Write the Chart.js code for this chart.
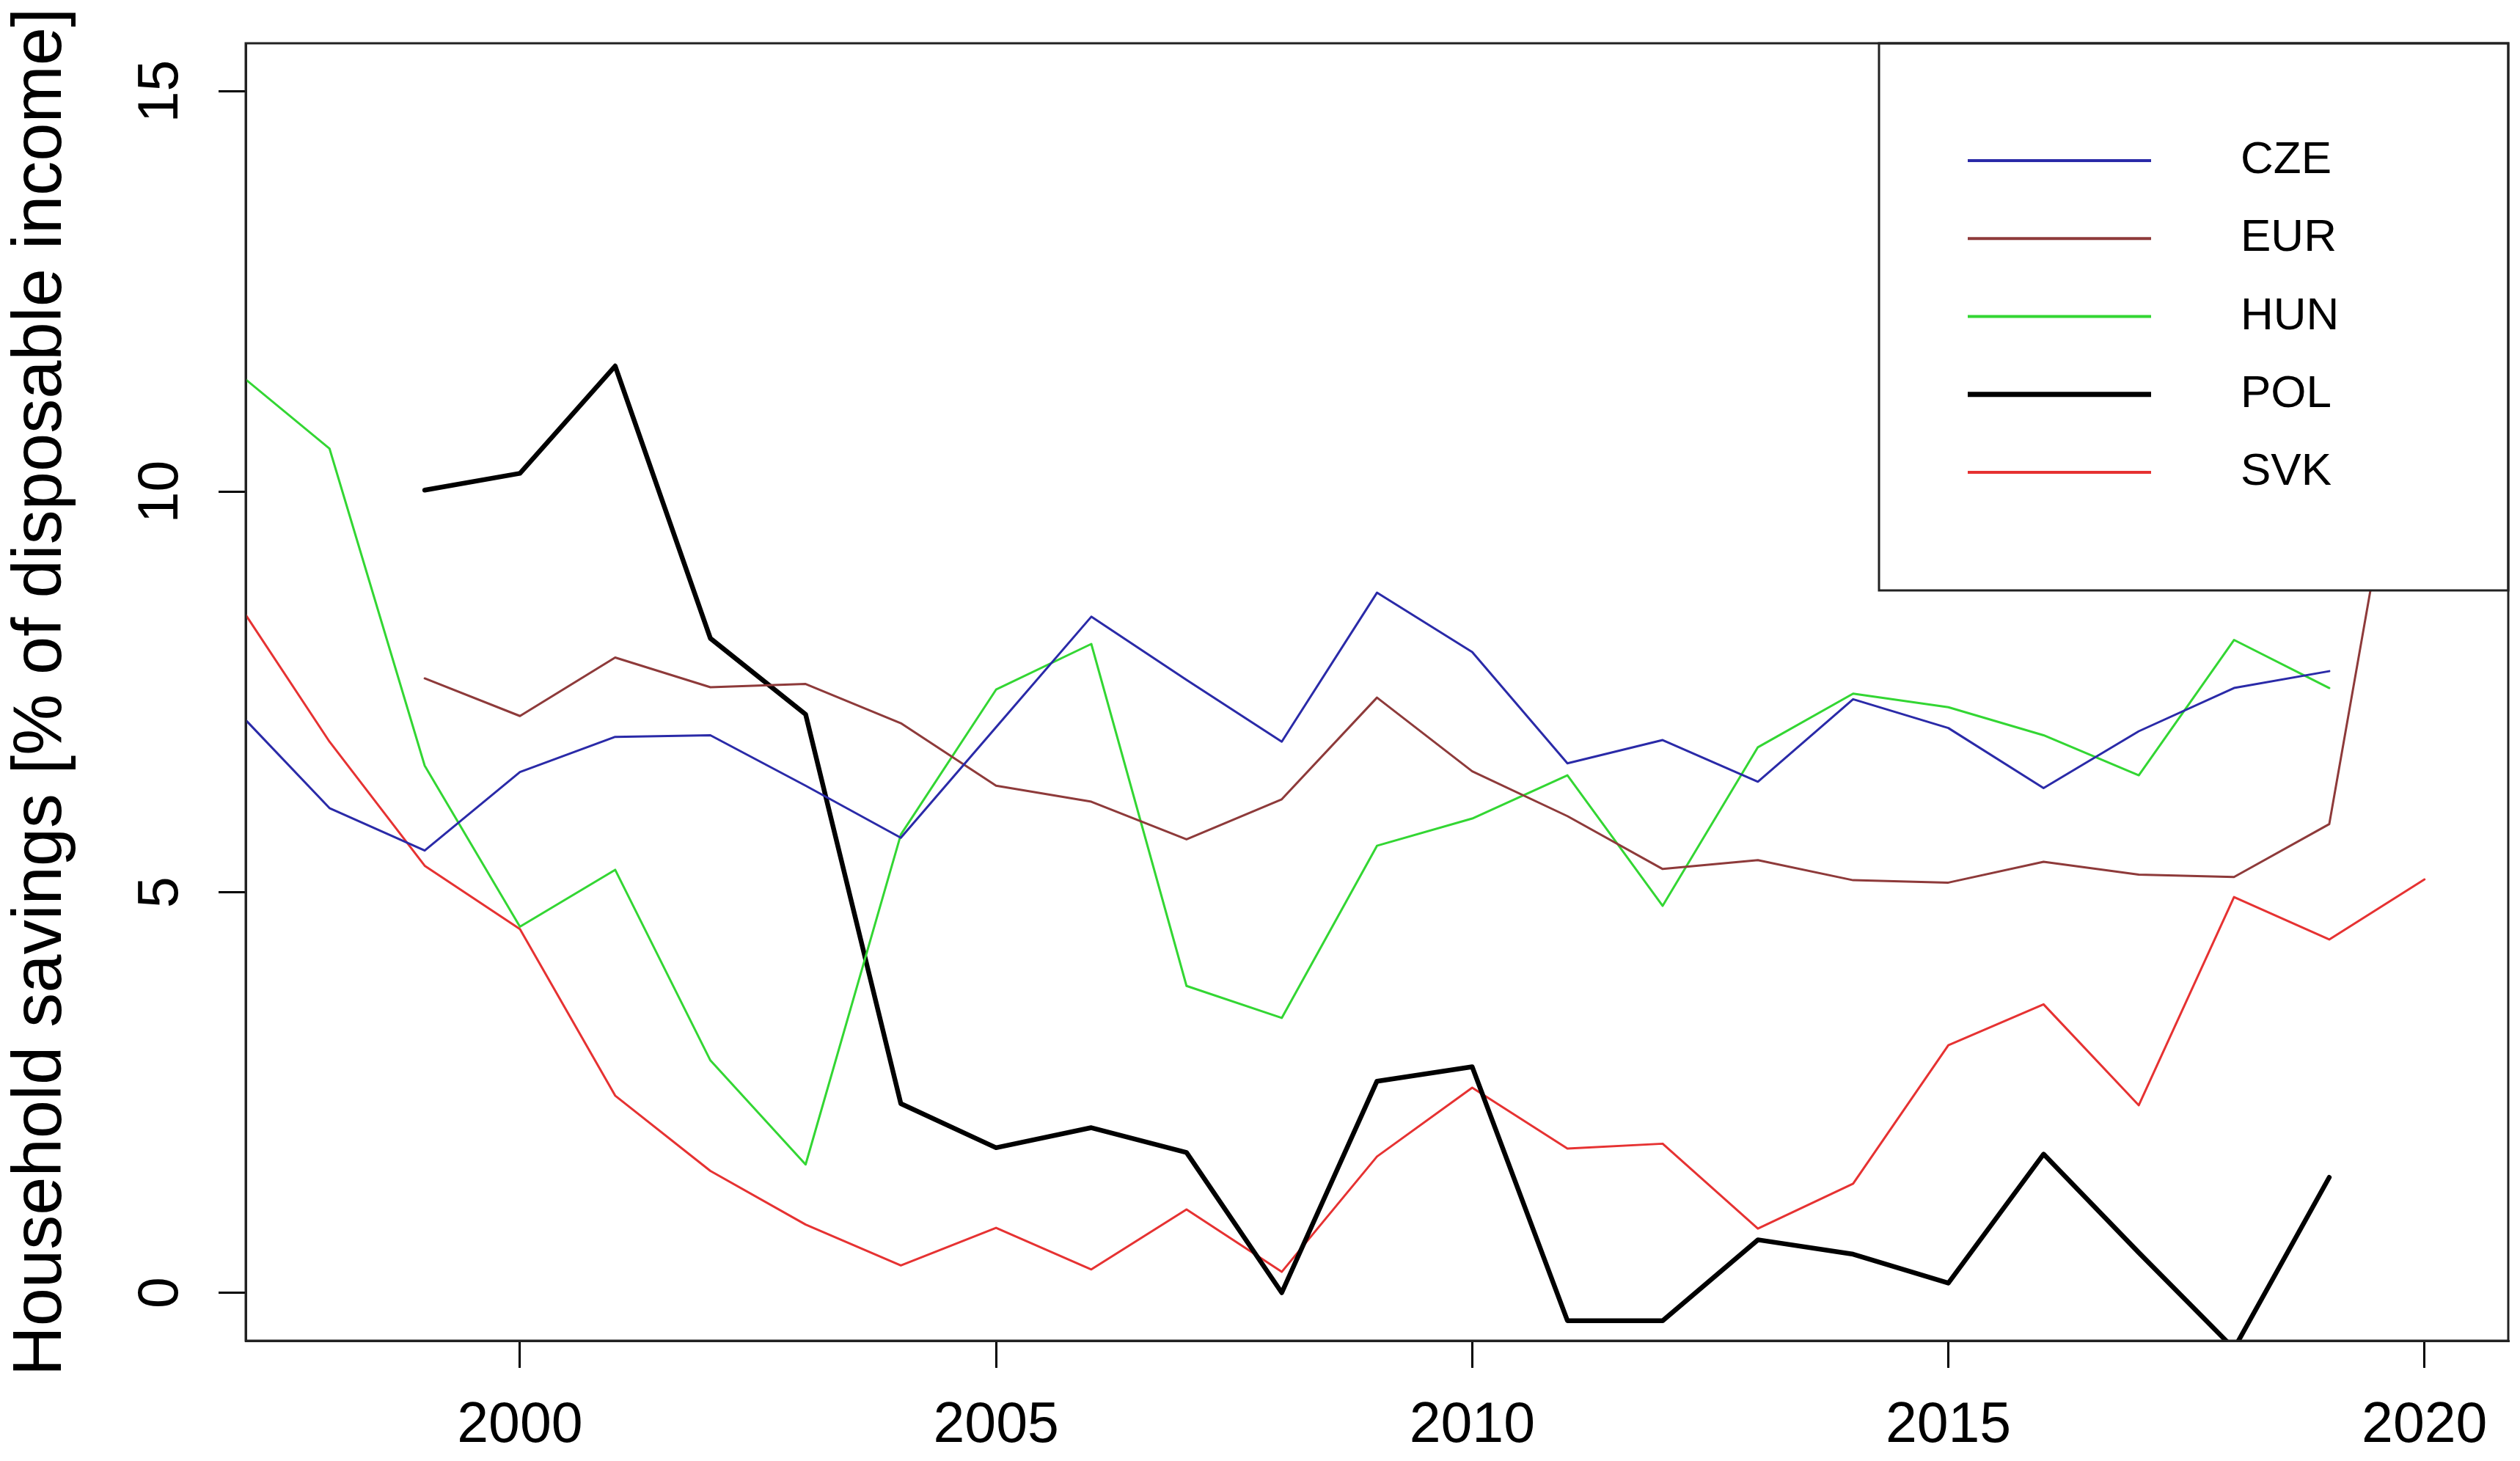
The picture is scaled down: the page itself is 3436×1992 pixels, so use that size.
<!DOCTYPE html>
<html>
<head>
<meta charset="utf-8">
<script src="https://cdn.jsdelivr.net/npm/chart.js@4/dist/chart.umd.min.js"></script>
<style>
  html, body { margin: 0; padding: 0; background: #ffffff; }
  #wrap { width: 3436px; height: 1992px; }
</style>
</head>
<body>
<div id="wrap"><canvas id="c" width="3436" height="1992"></canvas></div>
<script>
// ---------- data ----------
const years = [1997, 1998, 1999, 2000, 2001, 2002, 2003, 2004, 2005, 2006, 2007, 2008,
               2009, 2010, 2011, 2012, 2013, 2014, 2015, 2016, 2017, 2018, 2019, 2020];
const CZE = [7.3, 6.05, 5.52, 6.5, 6.94, 6.96, 6.33, 5.68, 7.06, 8.44, 7.65, 6.88,
             8.74, 8.0, 6.61, 6.9, 6.38, 7.41, 7.05, 6.3, 7.01, 7.55, 7.76, null];
const EUR = [null, null, 7.67, 7.2, 7.93, 7.56, 7.6, 7.11, 6.33, 6.13, 5.66, 6.16,
             7.43, 6.51, 5.95, 5.29, 5.4, 5.15, 5.12, 5.38, 5.22, 5.19, 5.85, 12.6];
const HUN = [11.52, 10.54, 6.58, 4.57, 5.28, 2.9, 1.6, 5.72, 7.53, 8.1, 3.83, 3.43,
             5.58, 5.92, 6.46, 4.83, 6.81, 7.48, 7.31, 6.96, 6.46, 8.15, 7.55, null];
const POL = [null, null, 10.02, 10.23, 11.57, 8.17, 7.22, 2.36, 1.81, 2.06, 1.75, 0.0,
             2.64, 2.82, -0.35, -0.35, 0.66, 0.48, 0.12, 1.73, 0.5, -0.7, 1.44, null];
const SVK = [8.68, 6.88, 5.33, 4.54, 2.46, 1.52, 0.85, 0.34, 0.81, 0.29, 1.04, 0.26,
             1.7, 2.56, 1.8, 1.86, 0.8, 1.36, 3.09, 3.6, 2.34, 4.94, 4.41, 5.16];

const seriesNames = ['CZE', 'EUR', 'HUN', 'POL', 'SVK'];
const seriesValues = [CZE, EUR, HUN, POL, SVK];
const xTicks = [2000, 2005, 2010, 2015, 2020];
const yTicks = [0, 5, 10, 15];
const xRange = [1997.12, 2020.88];
const yRange = [-0.6, 15.6];
const yTitle = 'Household savings [% of disposable income]';

// ---------- styles ----------
const seriesColors = ['#2a2aa8', '#8e3a3a', '#33d633', '#000000', '#e63232'];
const seriesWidths = [3, 3, 3, 6.5, 3];
const FONT = '"Liberation Sans", Arial, Helvetica, sans-serif';
Chart.defaults.font.family = FONT;

const datasets = seriesNames.map((name, i) => ({
  label: name,
  data: years.map((yr, j) => ({ x: yr, y: seriesValues[i][j] })),
  borderColor: seriesColors[i],
  backgroundColor: seriesColors[i],
  borderWidth: seriesWidths[i],
  pointRadius: 0,
  pointHoverRadius: 0,
  tension: 0,
  fill: false,
  spanGaps: false,
  clip: 0,
  borderJoinStyle: 'round',
  borderCapStyle: 'round'
}));

const framePlugin = {
  id: 'framePlugin',
  afterDatasetsDraw(chart) {
    const { ctx, chartArea: a, scales } = chart;
    const ys = scales.y;
    ctx.save();
    // rotated y tick labels (parallel to the axis)
    ctx.fillStyle = '#000';
    ctx.font = '77px ' + FONT;
    ctx.textAlign = 'center';
    ctx.textBaseline = 'middle';
    ys.ticks.forEach(t => {
      const py = ys.getPixelForValue(t.value);
      ctx.save();
      ctx.translate(a.left - 114, py);
      ctx.rotate(-Math.PI / 2);
      ctx.fillText(String(t.value), 0, 0);
      ctx.restore();
    });

    // legend box (inside plot, top-right)
    const L = { left: 2562, top: a.top, right: a.right, bottom: 805 };
    ctx.fillStyle = '#ffffff';
    ctx.fillRect(L.left, L.top, L.right - L.left, L.bottom - L.top);
    ctx.strokeStyle = '#222';
    ctx.lineWidth = 3;
    ctx.strokeRect(L.left, L.top, L.right - L.left, L.bottom - L.top);
    chart.data.datasets.forEach((ds, i) => {
      const yy = 219 + i * 106.25;
      ctx.strokeStyle = ds.borderColor;
      ctx.lineWidth = ds.borderWidth > 4 ? 7 : 4;
      ctx.lineCap = 'butt';
      ctx.beginPath();
      ctx.moveTo(2683, yy);
      ctx.lineTo(2933, yy);
      ctx.stroke();
      ctx.fillStyle = '#000';
      ctx.font = '62px ' + FONT;
      ctx.textAlign = 'left';
      ctx.textBaseline = 'middle';
      ctx.fillText(ds.label, 3055, yy);
    });

    // plot box
    ctx.strokeStyle = '#222';
    ctx.lineWidth = 3;
    ctx.strokeRect(a.left, a.top, a.right - a.left, a.bottom - a.top);
    ctx.restore();
  }
};

new Chart(document.getElementById('c'), {
  type: 'line',
  data: { datasets },
  plugins: [framePlugin],
  options: {
    responsive: false,
    devicePixelRatio: 1,
    animation: false,
    events: [],
    layout: { padding: { top: 59, right: 16, left: 0, bottom: 0 } },
    plugins: {
      legend: { display: false },
      tooltip: { enabled: false },
      title: { display: false }
    },
    scales: {
      x: {
        type: 'linear',
        min: xRange[0],
        max: xRange[1],
        afterBuildTicks: s => { s.ticks = xTicks.map(v => ({ value: v })); },
        afterFit: s => { s.height = 164; },
        ticks: {
          color: '#000',
          font: { size: 77, family: FONT },
          padding: 34,
          maxRotation: 0,
          autoSkip: false,
          callback: v => String(v)
        },
        grid: { drawOnChartArea: false, drawTicks: true, tickLength: 37, color: '#000', lineWidth: 3 },
        border: { display: true, color: '#222', width: 3 }
      },
      y: {
        type: 'linear',
        min: yRange[0],
        max: yRange[1],
        afterBuildTicks: s => { s.ticks = yTicks.map(v => ({ value: v })); },
        afterFit: s => { s.width = 335; },
        ticks: { display: false },
        grid: { drawOnChartArea: false, drawTicks: true, tickLength: 37, color: '#000', lineWidth: 3 },
        border: { display: true, color: '#222', width: 3 },
        title: {
          display: true,
          text: yTitle,
          color: '#000',
          font: { size: 94, family: FONT },
          padding: { top: 1, bottom: 0 }
        }
      }
    }
  }
});
</script>
</body>
</html>
